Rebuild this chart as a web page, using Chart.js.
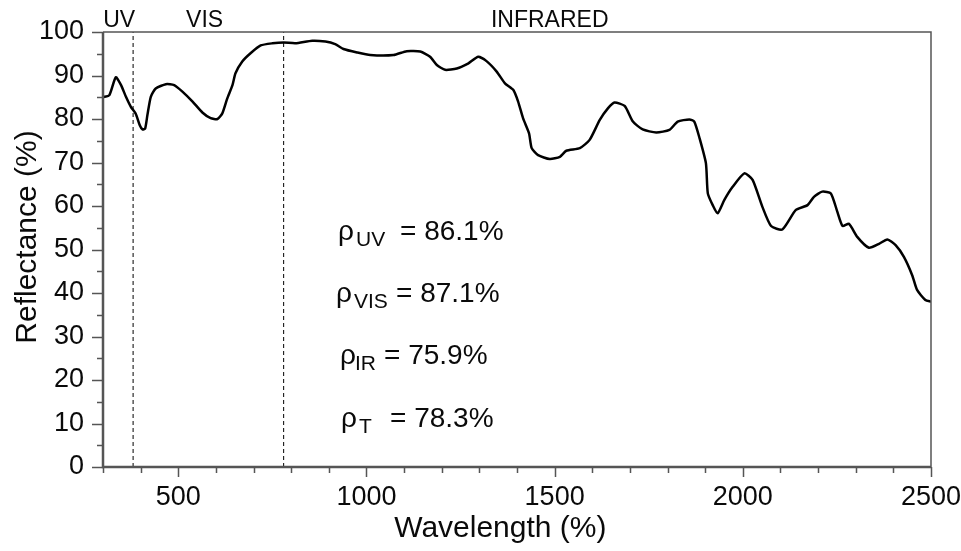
<!DOCTYPE html>
<html>
<head>
<meta charset="utf-8">
<script src="https://cdn.jsdelivr.net/npm/chart.js@4.4.1/dist/chart.umd.min.js"></script>
<style>
	html, body { margin: 0; padding: 0; background: #fff; }
	#wrap { width: 961px; height: 551px; }
</style>
</head>
<body>
<div id="wrap"><canvas id="myChart" width="961" height="551"></canvas></div>
<script>
// spectrum
var wavelengths = [300, 317, 334, 348, 361, 374, 387, 398, 405, 412, 418, 427, 440, 467, 489, 511, 538, 564, 586, 604,
	617, 630, 644, 652, 670, 692, 719, 750, 780, 811, 856, 891, 917, 939, 975, 1010, 1072, 1107, 1143, 1169,
	1187, 1209, 1240, 1271, 1297, 1319, 1346, 1368, 1390, 1403, 1416, 1432, 1439, 1456, 1487, 1514, 1531, 1567, 1593, 1620,
	1642, 1659, 1686, 1708, 1734, 1770, 1805, 1827, 1858, 1871, 1885, 1902, 1907, 1920, 1933, 1951, 1973, 2004, 2026, 2052,
	2075, 2105, 2141, 2172, 2189, 2211, 2234, 2251, 2265, 2282, 2304, 2335, 2362, 2384, 2406, 2428, 2450, 2463, 2485, 2500];
var reflectance = [85.0, 85.5, 89.6, 87.8, 85.1, 82.8, 81.2, 78.5, 77.6, 77.8, 80.9, 85.1, 87.0, 88.0, 87.8, 86.3, 84.0, 81.5, 80.2, 80.0,
	81.3, 84.7, 87.8, 90.5, 93.2, 95.1, 96.9, 97.4, 97.6, 97.4, 98.0, 97.8, 97.2, 96.1, 95.3, 94.7, 94.7, 95.6, 95.5, 94.3,
	92.4, 91.3, 91.6, 92.8, 94.3, 93.3, 90.9, 88.2, 86.7, 84.0, 80.2, 76.7, 73.3, 71.7, 70.8, 71.3, 72.7, 73.3, 75.2, 79.8,
	82.5, 83.8, 83.0, 79.4, 77.6, 76.9, 77.5, 79.4, 79.9, 79.4, 75.6, 69.8, 62.9, 60.2, 58.3, 61.4, 64.4, 67.5, 66.0, 59.8,
	55.4, 54.6, 59.1, 60.2, 62.1, 63.3, 62.9, 58.7, 55.4, 55.9, 52.9, 50.4, 51.3, 52.3, 51.0, 48.3, 44.1, 40.7, 38.4, 38.0];

var xTickLabels = [500, 1000, 1500, 2000, 2500];
var yTickLabels = [0, 10, 20, 30, 40, 50, 60, 70, 80, 90, 100];

var regionBounds = [380, 780];
var regionNames = ["UV", "VIS", "INFRARED"];

var rhoSubscripts = ["UV", "VIS", "IR", "T"];
var rhoValues = [86.1, 87.1, 75.9, 78.3];

var FONT = "'Liberation Sans', Arial, Helvetica, sans-serif";
var AXIS_COLOR = "#555";
var TEXT_COLOR = "#0a0a0a";

var points = [];
for (var i = 0; i < wavelengths.length; i++) {
	points.push({x: wavelengths[i], y: reflectance[i]});
}

var datasets = [{
	data: points,
	borderColor: "#000",
	borderWidth: 2.5,
	pointRadius: 0,
	tension: 0.2
}];
for (var j = 0; j < regionBounds.length; j++) {
	datasets.push({
		data: [{x: regionBounds[j], y: 0}, {x: regionBounds[j], y: 100}],
		borderColor: "#000",
		borderWidth: 1,
		borderDash: [4, 3],
		pointRadius: 0
	});
}

// frame, minor/major tick marks and the text annotations
var decor = {
	id: "decor",
	afterDatasetsDraw: function (chart, args, opts) {
		var ctx = chart.ctx;
		var area = chart.chartArea;
		var xs = chart.scales.x;
		var ys = chart.scales.y;
		ctx.save();

		ctx.strokeStyle = AXIS_COLOR;
		ctx.lineWidth = 1.5;
		ctx.beginPath();
		ctx.moveTo(area.left, area.top);
		ctx.lineTo(area.right, area.top);
		ctx.lineTo(area.right, area.bottom);
		ctx.stroke();
		ctx.lineWidth = 2.5;
		ctx.beginPath();
		ctx.moveTo(area.left, area.top);
		ctx.lineTo(area.left, area.bottom);
		ctx.lineTo(area.right, area.bottom);
		ctx.stroke();

		ctx.lineWidth = 1.5;
		ctx.beginPath();
		for (var v = 0; v <= 100; v += 5) {
			var py = Math.round(ys.getPixelForValue(v)) + 0.5;
			var len = (v % 10 === 0) ? 11 : 6;
			ctx.moveTo(area.left, py);
			ctx.lineTo(area.left - len, py);
		}
		for (var w = 300; w <= 2500; w += 100) {
			var px = Math.round(xs.getPixelForValue(w)) + 0.5;
			var l2 = (w % 500 === 0) ? 10 : 6;
			ctx.moveTo(px, area.bottom);
			ctx.lineTo(px, area.bottom + l2);
		}
		ctx.stroke();

		ctx.fillStyle = TEXT_COLOR;
		ctx.textBaseline = "alphabetic";
		ctx.textAlign = "center";
		ctx.font = "23px " + FONT;
		for (var k = 0; k < regionNames.length; k++) {
			ctx.fillText(regionNames[k], xs.getPixelForValue(opts.regionLabelX[k]), 27);
		}

		ctx.textAlign = "left";
		for (var n = 0; n < rhoSubscripts.length; n++) {
			var base = opts.rhoY[n];
			ctx.font = "28px " + FONT;
			ctx.fillText("\u03C1", opts.rhoX[n], base);
			ctx.font = "21px " + FONT;
			ctx.fillText(rhoSubscripts[n], opts.subX[n], base + 6);
			ctx.font = "28px " + FONT;
			ctx.fillText("= " + rhoValues[n].toFixed(1) + "%", opts.eqX[n], base);
		}
		ctx.restore();
	}
};

new Chart("myChart", {
	type: "line",
	data: {datasets: datasets},
	plugins: [decor],
	options: {
		responsive: false,
		animation: false,
		devicePixelRatio: 1,
		layout: {padding: {top: 32, right: 30, left: 0, bottom: 0}},
		plugins: {
			legend: {display: false},
			tooltip: {enabled: false},
			decor: {
				regionLabelX: [343, 570, 1487],
				rhoX: [338, 336, 340, 341],
				subX: [356, 354, 355, 359],
				eqX: [400, 396, 384, 390],
				rhoY: [240, 302, 364, 427]
			}
		},
		scales: {
			x: {
				type: "linear",
				min: 300,
				max: 2500,
				afterBuildTicks: function (scale) {
					scale.ticks = xTickLabels.map(function (v) { return {value: v}; });
				},
				afterFit: function (scale) {
					scale.height = 84;
					scale.paddingLeft = 0;
					scale.paddingRight = 0;
				},
				grid: {display: false, drawTicks: false},
				border: {display: false},
				ticks: {
					padding: 14,
					color: TEXT_COLOR,
					maxRotation: 0,
					font: {family: FONT, size: 27},
					callback: function (value) { return String(value); }
				},
				title: {
					display: true,
					// trailing spaces nudge the title a little left of centre, as in the original
					text: "Wavelength (%)    ",
					color: TEXT_COLOR,
					padding: {top: 0, bottom: 4},
					font: {family: FONT, size: 30}
				}
			},
			y: {
				min: 0,
				max: 100,
				afterBuildTicks: function (scale) {
					scale.ticks = yTickLabels.map(function (v) { return {value: v}; });
				},
				afterFit: function (scale) {
					scale.width = 103;
					scale.paddingTop = 0;
					scale.paddingBottom = 0;
				},
				grid: {display: false, drawTicks: false},
				border: {display: false},
				ticks: {
					padding: 19,
					color: TEXT_COLOR,
					font: {family: FONT, size: 27},
					callback: function (value) { return String(value); }
				},
				title: {
					display: true,
					text: "   Reflectance (%)",
					color: TEXT_COLOR,
					padding: {top: 10, bottom: 0},
					font: {family: FONT, size: 30}
				}
			}
		}
	}
});
</script>
</body>
</html>
